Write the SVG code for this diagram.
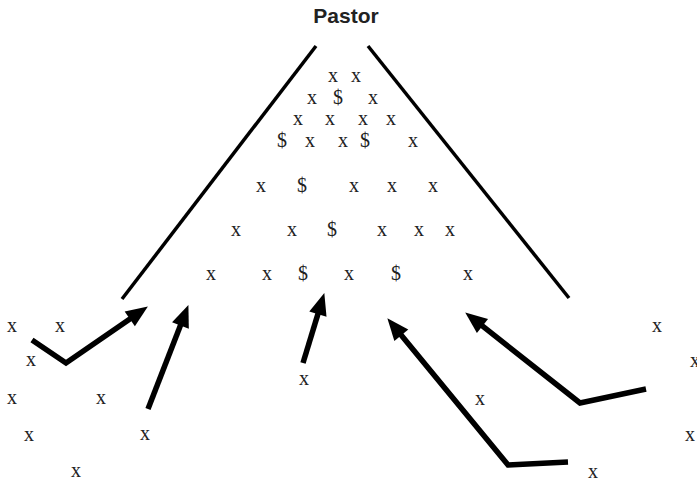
<svg xmlns="http://www.w3.org/2000/svg" width="697" height="482" viewBox="0 0 697 482">
<style>
.t{font-family:"Liberation Sans",Arial,sans-serif;font-weight:bold;font-size:21px;fill:#222}
.m{font-family:"Liberation Serif","Times New Roman",serif;font-size:20px;fill:#222;text-anchor:middle}
.ln{stroke:#000;stroke-width:3.5;fill:none}
.ar{stroke:#000;stroke-width:5.5;fill:none;stroke-linejoin:miter}
</style>
<defs>
<marker id="ah" markerUnits="userSpaceOnUse" markerWidth="24" markerHeight="20" refX="0" refY="9" orient="auto" overflow="visible">
<path d="M-1,0 L21,9 L-1,18 z" fill="#000"/>
</marker>
</defs>
<g id="title"><text class="t" x="346" y="23" text-anchor="middle">Pastor</text></g>
<g id="walls">
<line class="ln" x1="316" y1="46" x2="122" y2="299"/>
<line class="ln" x1="368" y1="46" x2="569" y2="298"/>
</g>
<g id="inside">
<text class="m" x="333" y="82">x</text><text class="m" x="356" y="82">x</text>
<text class="m" x="312" y="104">x</text><text class="m" x="338" y="104">$</text><text class="m" x="373" y="104">x</text>
<text class="m" x="298" y="125">x</text><text class="m" x="330" y="125">x</text><text class="m" x="363" y="125">x</text><text class="m" x="391" y="125">x</text>
<text class="m" x="282" y="147">$</text><text class="m" x="310" y="147">x</text><text class="m" x="343" y="147">x</text><text class="m" x="365" y="147">$</text><text class="m" x="413" y="147">x</text>
<text class="m" x="261" y="192">x</text><text class="m" x="302" y="192">$</text><text class="m" x="354" y="192">x</text><text class="m" x="392" y="192">x</text><text class="m" x="433" y="192">x</text>
<text class="m" x="236" y="236">x</text><text class="m" x="292" y="236">x</text><text class="m" x="332" y="236">$</text><text class="m" x="382" y="236">x</text><text class="m" x="419" y="236">x</text><text class="m" x="450" y="236">x</text>
<text class="m" x="211" y="280">x</text><text class="m" x="267" y="280">x</text><text class="m" x="303" y="280">$</text><text class="m" x="349" y="280">x</text><text class="m" x="396" y="280">$</text><text class="m" x="468" y="280">x</text>
</g>
<g id="outside">
<text class="m" x="12" y="332">x</text><text class="m" x="60" y="332">x</text><text class="m" x="31" y="366">x</text>
<text class="m" x="12" y="404">x</text><text class="m" x="101" y="404">x</text><text class="m" x="29" y="441">x</text>
<text class="m" x="145" y="440">x</text><text class="m" x="76" y="477">x</text>
<text class="m" x="304" y="385">x</text><text class="m" x="480" y="405">x</text><text class="m" x="593" y="478">x</text>
<text class="m" x="657" y="332">x</text><text class="m" x="695" y="367">x</text><text class="m" x="690" y="441">x</text>
</g>
<g id="connectors">
<polyline class="ar" points="32,340 66,363 130.6,318.4" marker-end="url(#ah)"/>
<polyline class="ar" points="148,409 180.8,324.6" marker-end="url(#ah)"/>
<polyline class="ar" points="303,363 318.2,313.1" marker-end="url(#ah)"/>
<polyline class="ar" points="568,462 508,465 400.7,334.4" marker-end="url(#ah)"/>
<polyline class="ar" points="646,389 580,403 481.7,325.4" marker-end="url(#ah)"/>
</g>
</svg>
